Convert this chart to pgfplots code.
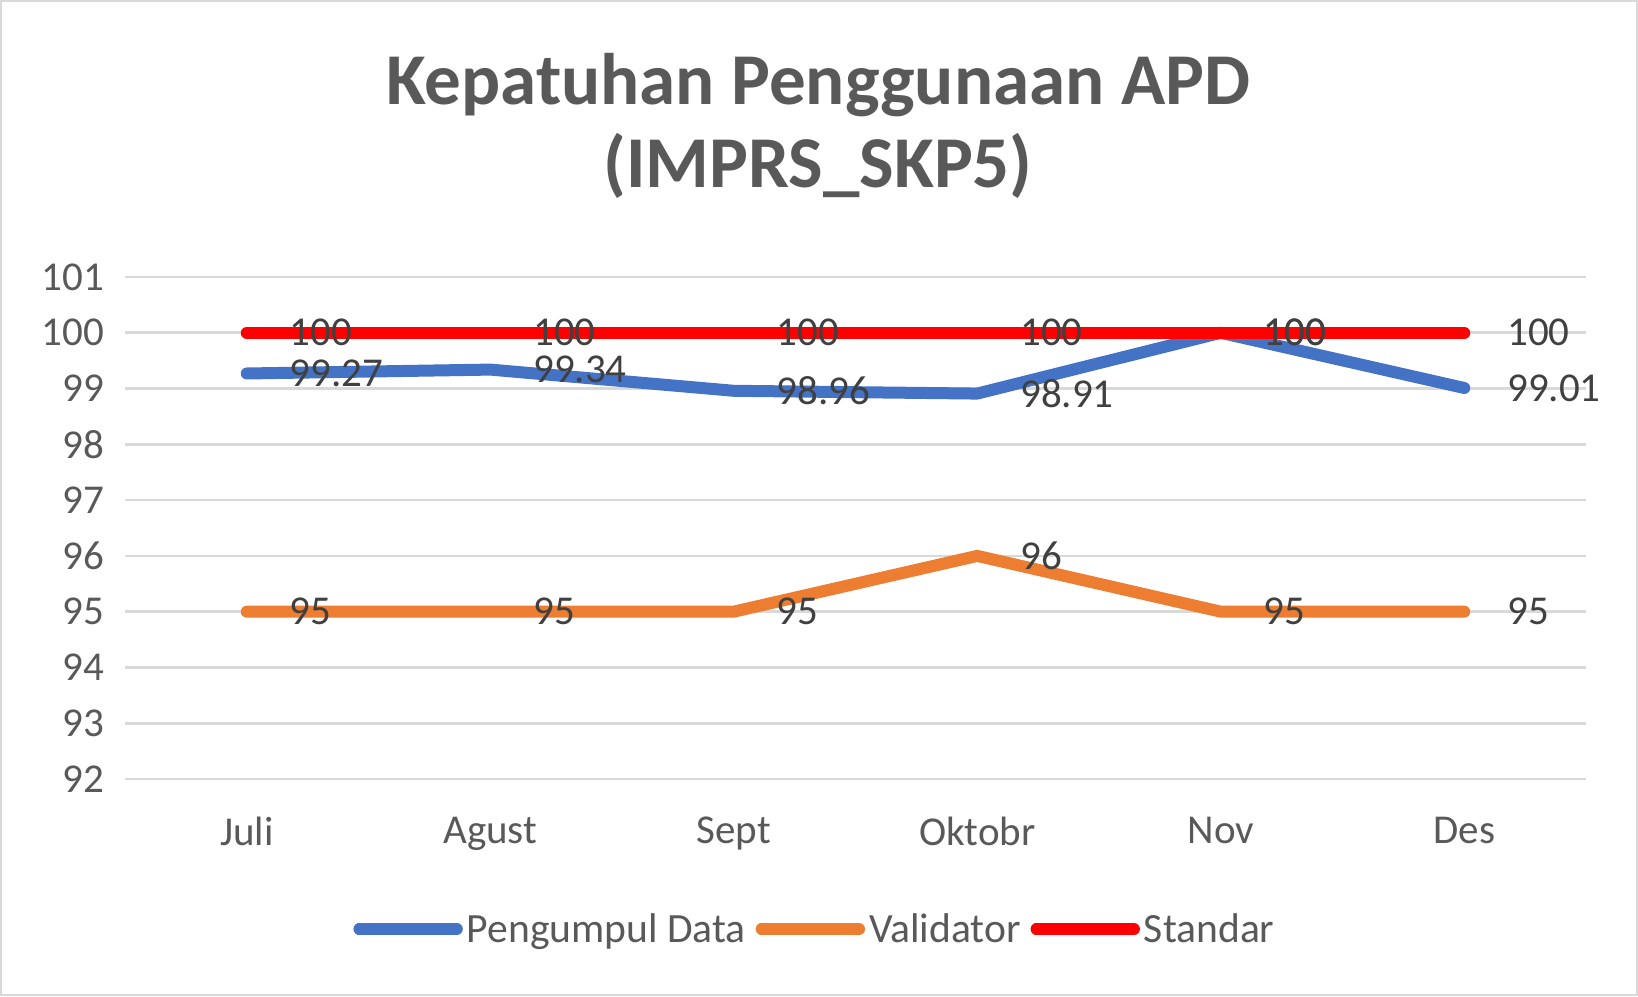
\documentclass[border=0pt]{standalone}
\usepackage{fontspec}
\setmainfont{Carlito}
\usepackage{pgfplots}
\pgfplotsset{compat=1.18}
\usepackage{pgfplotstable}
\definecolor{cblue}{HTML}{4472C4}
\definecolor{corange}{HTML}{ED7D31}
\definecolor{cred}{HTML}{FF0000}
\definecolor{cgrid}{HTML}{D9D9D9}
\definecolor{ctext}{HTML}{595959}
\definecolor{clab}{HTML}{404040}

\pgfplotstableread{
x y lab
0 99.27 99.27
1 99.34 99.34
2 98.96 98.96
3 98.91 98.91
4 100 100
5 99.01 99.01
}\pengumpul

\pgfplotstableread{
x y lab
0 95 95
1 95 95
2 95 95
3 96 96
4 95 95
5 95 95
}\validator

\pgfplotstableread{
x y lab
0 100 100
1 100 100
2 100 100
3 100 100
4 100 100
5 100 100
}\standar

\begin{document}
\begin{tikzpicture}
\path[use as bounding box] (0,0) rectangle (819pt,498pt);
\draw[cgrid, line width=1pt] (0.5pt,0.5pt) rectangle (818.5pt,497.5pt);
\node[font=\fontsize{36.5}{41.5}\selectfont\bfseries, text=ctext, align=center] at (409pt,435pt) {Kepatuhan Penggunaan APD\\(IMPRS\_SKP5)};
\begin{axis}[
  at={(62.5pt,108.5pt)}, anchor=south west,
  scale only axis, width=730.5pt, height=251pt,
  xmin=-0.5, xmax=5.5, ymin=92, ymax=101,
  xtick={0,...,5}, xticklabels={Juli,Agust,Sept,Oktobr,Nov,Des},
  ytick={92,...,101},
  axis line style={draw=none},
  major tick length=0pt,
  ymajorgrids, grid style={cgrid, line width=1.3pt},
  tick label style={font=\fontsize{20.5}{24}\selectfont, text=ctext},
  /pgf/number format/assume math mode=true,
  yticklabel style={xshift=-7pt},
  xticklabel style={yshift=-15.5pt},
  clip=false,
  point meta=explicit symbolic,
  nodes near coords,
  every node near coord/.append style={anchor=west, xshift=18.5pt, inner sep=0pt, font=\fontsize{20.5}{24}\selectfont, text=clab},
  legend style={at={(0.473,-0.299)}, anchor=center, draw=none, fill=none,
    legend columns=3, font=\fontsize{20.8}{24}\selectfont, text=ctext,
    /tikz/every even column/.append style={column sep=3pt}},
  legend image code/.code={\draw[#1, line width=6pt, line cap=round] (0pt,0pt) -- (41pt,0pt);
    \path (0pt,0pt) -- (48.6pt,0pt);},
  every axis plot/.append style={line width=6pt, line cap=round, line join=round},
]
\addplot[cblue, mark=none] table[x=x, y=y, meta=lab] {\pengumpul};
\addlegendentry{Pengumpul Data}
\addplot[corange, mark=none] table[x=x, y=y, meta=lab] {\validator};
\addlegendentry{Validator}
\addplot[cred, mark=none] table[x=x, y=y, meta=lab] {\standar};
\addlegendentry{Standar}
\end{axis}
\end{tikzpicture}
\end{document}
